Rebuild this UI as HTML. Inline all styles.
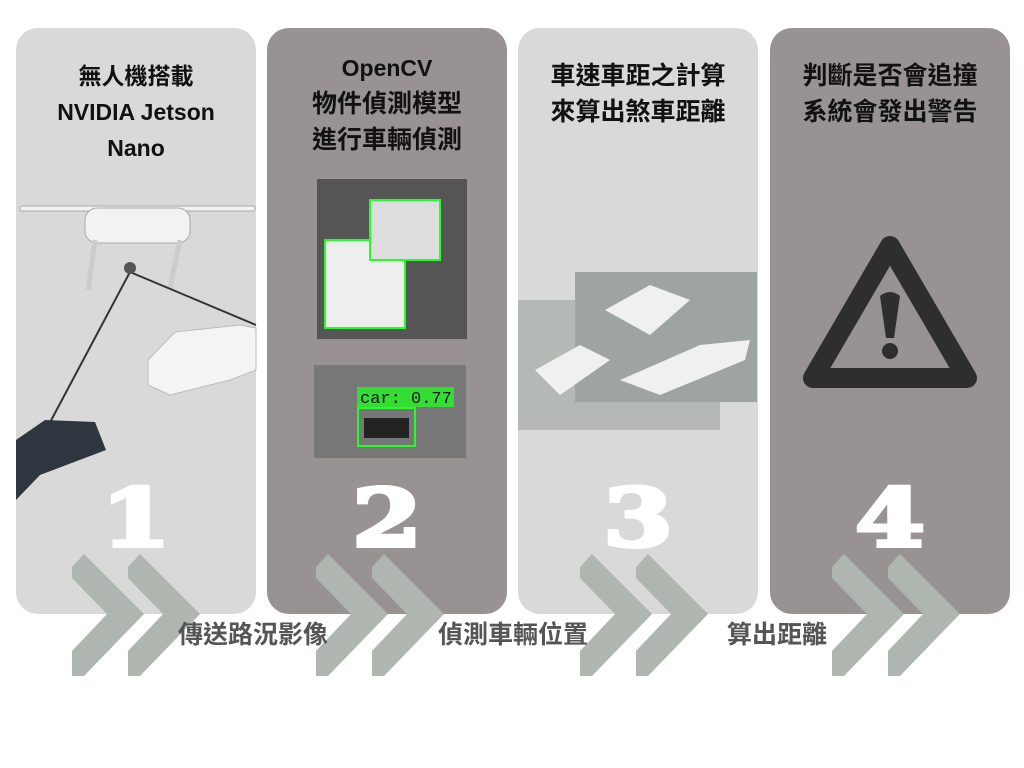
<!DOCTYPE html>
<html><head><meta charset="utf-8"><style>
body{margin:0;width:1024px;height:768px;background:#fff;position:relative;overflow:hidden;font-family:"Liberation Sans","Noto Sans CJK TC",sans-serif}
.p{position:absolute;top:28px;width:240px;height:586px;border-radius:22px}
.l{background:#d9d9d9}.d{background:#989392}
.t{position:absolute;left:0;width:100%;text-align:center;font-weight:bold;font-size:23px;color:#111;line-height:36px}
.c{font-size:25px}
.n{position:absolute;top:440px;width:100%;text-align:center;font-family:"DejaVu Serif",serif;font-weight:bold;font-size:80px;color:#fff;line-height:100px;-webkit-text-stroke:4px #fff;transform:scaleX(1.25)}
.lab{position:absolute;top:615px;font-size:25px;font-weight:bold;color:#555;font-family:"Noto Sans CJK TC",sans-serif}
</style></head><body>
<div class="p l" style="left:16px">
<div class="t" style="top:30px">無人機搭載<br>NVIDIA Jetson<br>Nano</div>
<div class="n">1</div></div>
<div class="p d" style="left:267px">
<div class="t" style="top:22px">OpenCV<br><span class="c">物件偵測模型<br>進行車輛偵測</span></div>
<div class="n">2</div></div>
<div class="p l" style="left:518px">
<div class="t c" style="top:30px">車速車距之計算<br>來算出煞車距離</div>
<div class="n">3</div></div>
<div class="p d" style="left:770px">
<div class="t c" style="top:30px">判斷是否會追撞<br>系統會發出警告</div>
<div class="n">4</div></div>
<svg width="1024" height="768" style="position:absolute;left:0;top:0">
<g fill="#f2f2f2" stroke="#aaa">
<rect x="20" y="206" width="235" height="5" rx="2"/>
<rect x="85" y="208" width="105" height="35" rx="12"/>
<path d="M95 240 L88 290 M180 240 L170 288" stroke="#ccc" stroke-width="5"/>
</g>
<path d="M130 272 L30 460 M130 272 L256 325" stroke="#333" stroke-width="2"/>
<circle cx="130" cy="268" r="6" fill="#555"/>
<path d="M148 360 L175 332 L240 325 L256 328 L256 370 L230 380 L170 395 L148 385Z" fill="#f4f4f4" stroke="#bbb"/>
<path d="M16 440 L45 420 L95 422 L106 450 L40 475 L16 500Z" fill="#2e3740"/>
<rect x="317" y="179" width="150" height="160" fill="#555"/>
<rect x="325" y="240" width="80" height="88" fill="#eee" stroke="#2f2" stroke-width="2"/>
<rect x="370" y="200" width="70" height="60" fill="#ddd" stroke="#2f2" stroke-width="2"/>
<rect x="314" y="365" width="152" height="93" fill="#777"/>
<rect x="357" y="387" width="97" height="20" fill="#3d3"/>
<text x="360" y="403" font-family="Liberation Mono" font-size="17" fill="#111">car: 0.77</text>
<rect x="358" y="408" width="57" height="38" fill="none" stroke="#2f2" stroke-width="2"/>
<rect x="364" y="418" width="45" height="20" fill="#222"/>
<rect x="518" y="300" width="202" height="130" fill="#b5b9b6"/>
<rect x="575" y="272" width="182" height="130" fill="#9ea4a1"/>
<path d="M605 310 L650 285 L690 300 L650 335Z M620 380 L700 345 L750 340 L745 360 L660 395Z M535 370 L580 345 L610 360 L560 395Z" fill="#f0f0f0"/>
<path d="M890 246 L967 378 L813 378Z" fill="none" stroke="#2e2e2e" stroke-width="20" stroke-linejoin="round"/>
<path d="M880 296 Q890 288 900 296 L894 338 L886 338Z" fill="#2e2e2e"/>
<circle cx="890" cy="351" r="8" fill="#2e2e2e"/>
<g fill="#afb5af">
<path id="c" d="M72 567 L84 554 L144 614 L84 676 L72 676 L72 651 L107 614 L72 578Z"/>
<use href="#c" x="56"/>
<use href="#c" x="244"/><use href="#c" x="300"/>
<use href="#c" x="508"/><use href="#c" x="564"/>
<use href="#c" x="760"/><use href="#c" x="816"/>
</g>
</svg>
<div class="lab" style="left:178px">傳送路況影像</div>
<div class="lab" style="left:438px">偵測車輛位置</div>
<div class="lab" style="left:727px">算出距離</div>
</body></html>
